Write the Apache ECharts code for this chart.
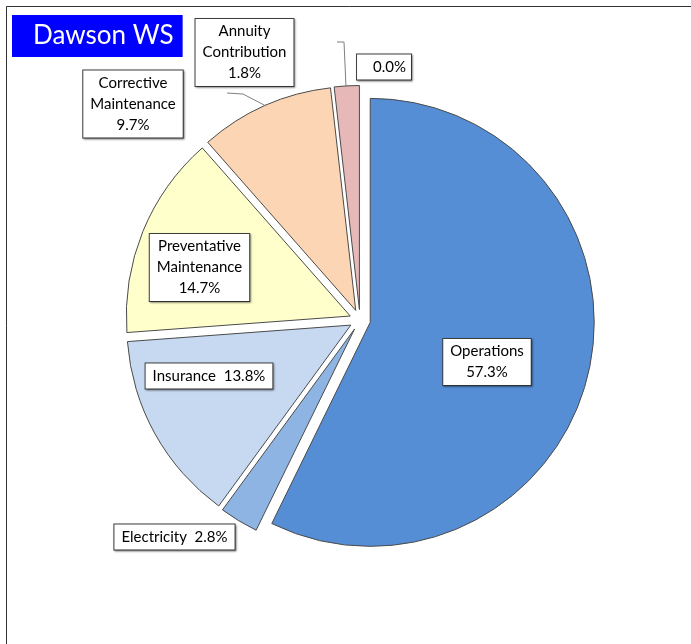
<!DOCTYPE html>
<html>
<head>
<meta charset="utf-8">
<script src="https://cdn.jsdelivr.net/npm/echarts@6/dist/echarts.min.js"></script>
<style>html,body{margin:0;padding:0;background:#fff;}#c{width:691px;height:644px;}</style>
</head>
<body>
<div id="c"></div>
<script>
// Data
const categories = ['Operations', 'Electricity', 'Insurance', 'Preventative Maintenance', 'Corrective Maintenance', 'Annuity Contribution', ''];
const values = [57.3, 2.8, 13.8, 14.7, 9.7, 1.8, 0.0];
const labelPrefixes = ['Operations\n', 'Electricity  ', 'Insurance  ', 'Preventative\nMaintenance\n', 'Corrective\nMaintenance\n', 'Annuity\nContribution\n', ''];
const titleText = 'Dawson WS';

// Styles / layout
const colors = ['#558ED5', '#8EB4E3', '#C6D9F1', '#FFFFCC', '#FCD5B5', '#E6B9B8', '#E6B9B8'];
const labelCenters = [[487, 362], [174.5, 537], [209, 376], [199.5, 267.5], [133, 104], [244.5, 52.5], [384, 67]];
const labelPaddings = [null, null, null, null, null, null, [2, 5, 2, 16]];
const leaderLines = [null, null, null, null, null,
  [[266, 106], [243, 94], [227, 93]],
  [[346, 87], [344, 42], [337, 42]]];

const chart = echarts.init(document.getElementById('c'), null, {renderer: 'canvas'});
const FONT = 'Lato, "Open Sans", sans-serif';

const sliceData = categories.map((n, i) => ({
  name: n || ('item' + i),
  value: values[i],
  selected: true,
  itemStyle: {color: colors[i], borderWidth: values[i] === 0 ? 0 : 1}
}));
const labelData = categories.map((n, i) => {
  const d = {
    name: n || ('item' + i),
    value: values[i],
    labelLine: {show: !!leaderLines[i]}
  };
  if (labelPaddings[i]) d.label = {padding: labelPaddings[i]};
  return d;
});

chart.setOption({
  animation: false,
  title: {
    text: titleText,
    left: 12, top: 15,
    backgroundColor: '#0000FF',
    padding: [6, 9, 6, 21],
    textStyle: {color: '#fff', fontSize: 26, fontWeight: 'normal', fontFamily: FONT, lineHeight: 30}
  },
  graphic: [{
    type: 'rect', silent: true,
    shape: {x: 6.5, y: 6.5, width: 720, height: 720},
    style: {fill: 'none', stroke: '#333', lineWidth: 1}
  }],
  series: [{
    type: 'pie',
    center: [360, 320],
    radius: 224,
    startAngle: 90,
    clockwise: true,
    selectedMode: 'multiple',
    selectedOffset: 10.5,
    itemStyle: {borderColor: '#4a4a4a', borderWidth: 1},
    emphasis: {disabled: true},
    label: {show: false},
    labelLine: {show: false},
    silent: true,
    data: sliceData
  }, {
    type: 'pie',
    center: [360, 320],
    radius: 224,
    startAngle: 90,
    clockwise: true,
    silent: true,
    z: 5,
    avoidLabelOverlap: false,
    itemStyle: {color: 'rgba(0,0,0,0)', borderWidth: 0},
    emphasis: {disabled: true},
    label: {
      show: true,
      position: 'outside',
      formatter: p => labelPrefixes[p.dataIndex] + values[p.dataIndex].toFixed(1) + '%',
      fontFamily: FONT,
      fontSize: 15,
      lineHeight: 21,
      color: '#000',
      backgroundColor: '#fff',
      borderColor: '#404040',
      borderWidth: 1,
      padding: [2, 7, 2, 7],
      align: 'center',
      shadowColor: 'rgba(0,0,0,0.35)',
      shadowBlur: 2,
      shadowOffsetX: 1,
      shadowOffsetY: 1
    },
    labelLine: {lineStyle: {color: '#7f7f7f', width: 1}},
    labelLayout: function (params) {
      const i = params.dataIndex;
      const r = {x: labelCenters[i][0], y: labelCenters[i][1], align: 'center', verticalAlign: 'middle'};
      if (leaderLines[i]) r.labelLinePoints = leaderLines[i];
      return r;
    },
    data: labelData
  }]
});
</script>
</body>
</html>
